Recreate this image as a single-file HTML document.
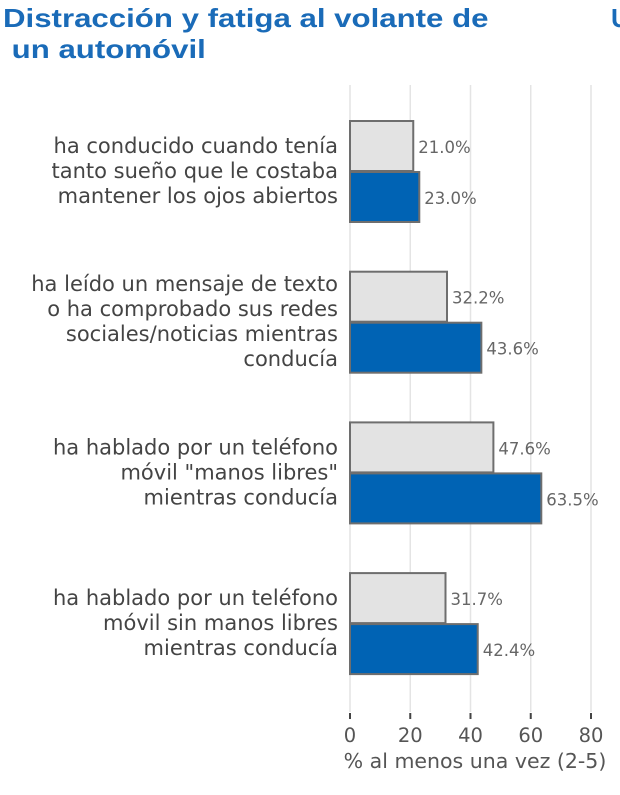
<!DOCTYPE html>
<html><head><meta charset="utf-8"><style>
body{margin:0;background:#fff;width:620px;height:795px;overflow:hidden;font-family:"Liberation Sans",sans-serif}
#title{position:absolute;left:3px;top:3px;color:#1a6bb8;font-weight:bold;font-size:26px;line-height:31px;margin:0;transform:scaleX(1.2);transform-origin:0 0;white-space:nowrap}
#u{position:absolute;left:611px;top:3px;color:#1a6bb8;font-weight:bold;font-size:26px}
svg{position:absolute;left:0;top:0}
svg text{font-family:"DejaVu Sans",sans-serif}
</style></head><body>
<h1 id="title">Distracción y fatiga al volante de<br>&nbsp;un automóvil</h1>
<div id="u">U</div>
<svg id="chart" width="620" height="795"></svg>
<script>
const categories=[["ha conducido cuando tenía","tanto sueño que le costaba","mantener los ojos abiertos"],["ha leído un mensaje de texto","o ha comprobado sus redes","sociales/noticias mientras","conducía"],["ha hablado por un teléfono","móvil \"manos libres\"","mientras conducía"],["ha hablado por un teléfono","móvil sin manos libres","mientras conducía"]];
const seriesGray=[21.0,32.2,47.6,31.7];
const seriesBlue=[23.0,43.6,63.5,42.4];
const ticks=[0,20,40,60,80];
const axisTitle="% al menos una vez (2-5)";
const NS="http://www.w3.org/2000/svg",svg=document.getElementById('chart');
const x=v=>350+v*(591-350)/80;
const groupCenter=i=>171+i*150.7;
function mk(t,a,p){const e=document.createElementNS(NS,t);for(const k in a)e.setAttribute(k,a[k]);(p||svg).appendChild(e);return e;}
ticks.forEach(t=>{
 const g=mk('line',{x1:x(t),x2:x(t),y1:85,y2:712,stroke:'#e4e4e4','stroke-width':1.5});
 
 
 const m=mk('line',{x1:x(t),x2:x(t),y1:713,y2:719,stroke:'#444','stroke-width':2});
 
 
 const l=mk('text',{x:x(t),y:742,'text-anchor':'middle','font-size':19.5,fill:'#555'});
 l.textContent=t;
 
 
});
const at=mk('text',{x:475,y:768,'text-anchor':'middle','font-size':20.5,fill:'#555'});
at.textContent=axisTitle;


categories.forEach((lines,i)=>{
 const c=groupCenter(i);
 const tt=mk('text',{'font-size':21,fill:'#444','text-anchor':'end'});
 
 
 const lh=25,y0=c-(lines.length-1)*lh/2+7;
 lines.forEach((s,j)=>{const ts=mk('tspan',{x:338,y:y0+j*lh},tt);ts.textContent=s;});
 [[seriesGray,'#e3e3e3','gray',c-50],[seriesBlue,'#0063b4','blue',c+1]].forEach(([arr,col,nm,y])=>{
  const v=arr[i];
  const r=mk('rect',{x:x(0),y:y,width:x(v)-x(0),height:50,fill:col,stroke:'#6e6e6e','stroke-width':2});
  
  
  const t=mk('text',{x:x(v)+5,y:y+32,'font-size':16.5,fill:'#666'});
  t.textContent=v.toFixed(1)+'%';
  
  
 });
});
</script>
</body></html>
